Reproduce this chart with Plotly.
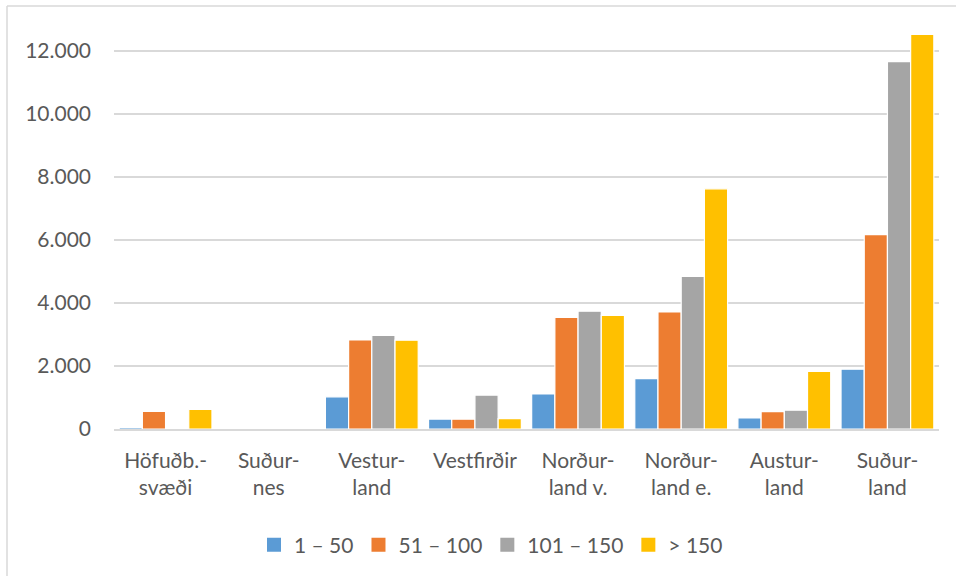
import plotly.graph_objects as go

categories = ["Höfuðb.-<br>svæði", "Suður-<br>nes", "Vestur-<br>land", "Vestfirðir",
              "Norður-<br>land v.", "Norður-<br>land e.", "Austur-<br>land", "Suður-<br>land"]
series_names = ["1 – 50", "51 – 100", "101 – 150", "> 150"]
s1_50 = [50, 0, 1020, 315, 1110, 1595, 350, 1895]
s51_100 = [560, 0, 2825, 312, 3535, 3710, 548, 6160]
s101_150 = [0, 0, 2965, 1075, 3735, 4840, 595, 11650]
s150 = [620, 0, 2815, 330, 3605, 7615, 1830, 12510]
colors = ["#5B9BD5", "#ED7D31", "#A5A5A5", "#FFC000"]
y_ticks = [0, 2000, 4000, 6000, 8000, 10000, 12000]

W, H = 956, 576
L, R, T, B = 114, 17, 19, 146
pw, ph = W - L - R, H - T - B

fig = go.Figure()
for name, vals, col in zip(series_names, [s1_50, s51_100, s101_150, s150], colors):
    fig.add_trace(go.Bar(x=categories, y=vals, name=name, showlegend=False,
                         marker=dict(color=col, line=dict(color="white", width=1.2))))
# legend entries with larger square swatches
for name, col in zip(series_names, colors):
    fig.add_trace(go.Scatter(x=[None], y=[None], mode="markers", name=name,
                             marker=dict(symbol="square", size=14, color=col)))

txt = "#595959"
font = dict(family="Lato, Open Sans, sans-serif", size=21, color=txt)

def px_x(x):
    return (x - L) / pw

def px_y(y):
    return (H - B - y) / ph

fig.update_layout(
    width=W, height=H,
    margin=dict(l=L, r=R, t=T, b=B),
    paper_bgcolor="white", plot_bgcolor="white",
    separators=",.",
    barmode="group", bargap=0.1, bargroupgap=0,
    font=font,
    showlegend=True,
    legend=dict(orientation="h", x=px_x(491), xanchor="center", y=px_y(545), yanchor="middle",
                font=font, itemwidth=30, traceorder="normal"),
    xaxis=dict(showgrid=False, showline=True, linecolor="#D9D9D9", linewidth=1.5,
               tickfont=font, ticklabelstandoff=12, ticks=""),
    yaxis=dict(range=[0, 13000], tickvals=y_ticks, tickformat=",", showgrid=True,
               gridcolor="#D9D9D9", gridwidth=1.5, zeroline=False, showline=False,
               tickfont=font, ticklabelstandoff=22, ticks=""),
    shapes=[
        dict(type="line", xref="paper", yref="paper", x0=px_x(7), x1=px_x(W + 20),
             y0=px_y(6), y1=px_y(6), line=dict(color="#D9D9D9", width=1.5)),
        dict(type="line", xref="paper", yref="paper", x0=px_x(7), x1=px_x(7),
             y0=px_y(6), y1=px_y(H + 20), line=dict(color="#D9D9D9", width=1.5)),
    ],
)

fig.write_html("out.html", config={"displayModeBar": False},
               post_script="document.body.style.margin='0';document.body.style.overflow='hidden';")
